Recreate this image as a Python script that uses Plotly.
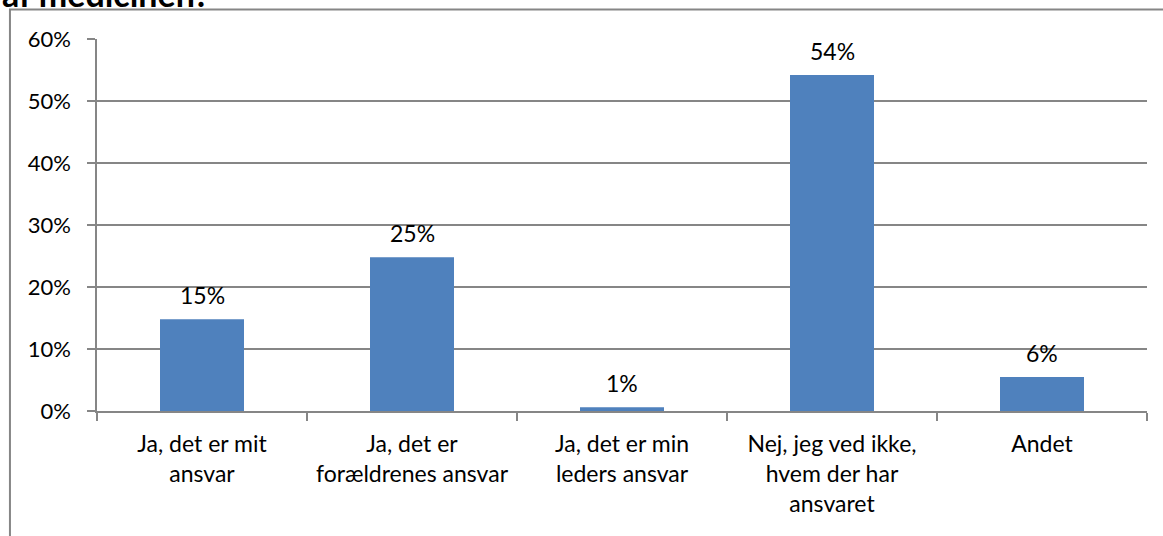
import plotly.graph_objects as go

# survey answers (share of respondents)
categories = [
    'Ja, det er mit<br>ansvar',
    'Ja, det er<br>forældrenes ansvar',
    'Ja, det er min<br>leders ansvar',
    'Nej, jeg ved ikke,<br>hvem der har<br>ansvaret',
    'Andet',
]
values = [0.148, 0.248, 0.006, 0.542, 0.055]
labels = ['15%', '25%', '1%', '54%', '6%']
y_ticks = [0, 0.1, 0.2, 0.3, 0.4, 0.5, 0.6]
y_ticktext = ['0%', '10%', '20%', '30%', '40%', '50%', '60%']

FONT = 'Lato'
GRID = '#868686'

fig = go.Figure()
fig.add_trace(go.Bar(
    x=categories, y=values,
    marker=dict(color='#4F81BD', line=dict(width=0)),
    hoverinfo='skip',
))

# data labels sit a bit above each bar, like Excel does
for cat, val, lab in zip(categories, values, labels):
    fig.add_annotation(x=cat, y=val, text=lab, showarrow=False,
                       yanchor='bottom', yshift=8,
                       font=dict(family=FONT, size=23, color='#000000'))

# title, cut off at the top of the picture
fig.add_annotation(xref='paper', yref='paper', x=-0.0924, y=1.062, text='<b>af medicinen?</b>',
                   showarrow=False, xanchor='left', yanchor='bottom',
                   font=dict(family=FONT, size=34, color='#000000'))

# outer chart border
fig.add_shape(type='rect', xref='paper', yref='paper',
              x0=-0.0829, x1=1.05, y0=-0.5, y1=1.0793,
              line=dict(color=GRID, width=2), layer='below')

fig.update_xaxes(
    showline=True, linecolor=GRID, linewidth=1.5,
    ticks='outside', tickson='boundaries', ticklen=8, tickcolor=GRID, tickwidth=1.5,
    ticklabelstandoff=12,
    tickfont=dict(family=FONT, size=23, color='#000000'),
    showgrid=False, fixedrange=True,
)
fig.update_yaxes(
    range=[0, 0.6], tickvals=y_ticks, ticktext=y_ticktext,
    showline=True, linecolor=GRID, linewidth=1.5,
    ticks='outside', ticklen=8, tickcolor=GRID, tickwidth=1.5,
    ticklabelstandoff=12,
    showgrid=True, gridcolor=GRID, gridwidth=1.5,
    zeroline=False,
    tickfont=dict(family=FONT, size=22, color='#000000'),
    fixedrange=True,
)
fig.update_layout(
    width=1163, height=536,
    margin=dict(l=97, r=16, t=39, b=125),
    paper_bgcolor='white', plot_bgcolor='white',
    bargap=0.6, showlegend=False,
    font=dict(family=FONT),
)
# drop the browser's default body margin so the chart fills the window
fig.write_html('out.html', config={'displayModeBar': False},
               post_script="document.body.style.margin='0';")
